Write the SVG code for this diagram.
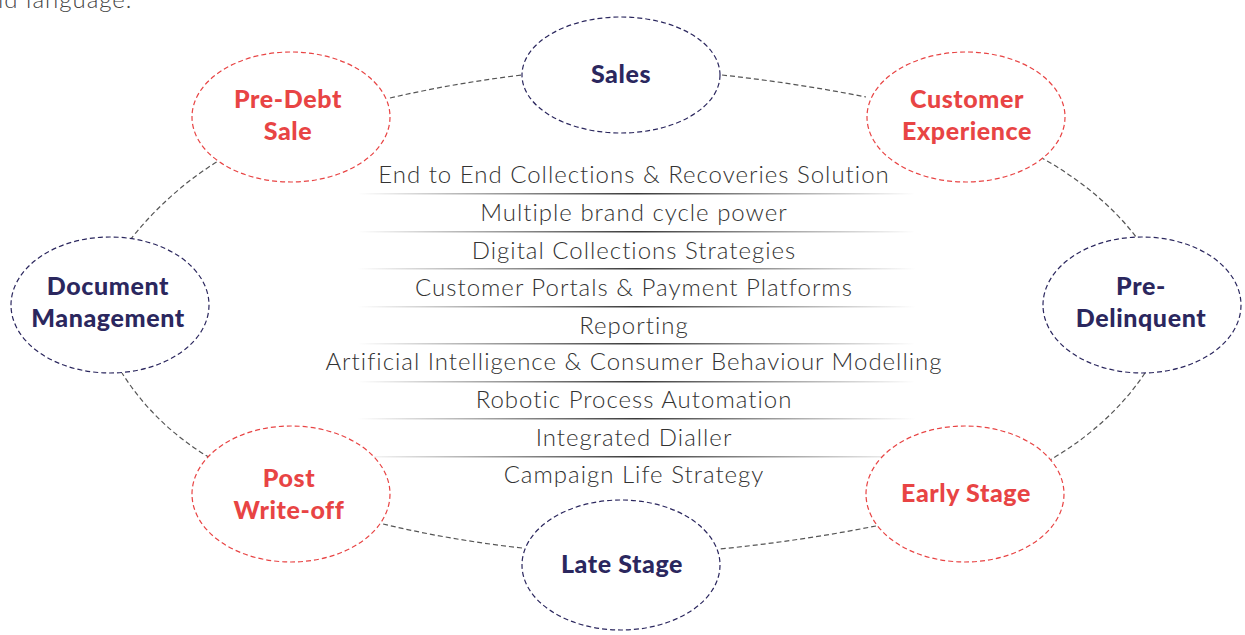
<svg xmlns="http://www.w3.org/2000/svg" width="1245" height="635" viewBox="0 0 1245 635">
<defs>
<linearGradient id="sep" x1="0" y1="0" x2="1" y2="0">
<stop offset="0" stop-color="#ffffff"/>
<stop offset="0.5" stop-color="#3a3a3a"/>
<stop offset="1" stop-color="#ffffff"/>
</linearGradient>
</defs>
<style>
.red ellipse{fill:#fff;stroke:#e84444;stroke-width:1.2;stroke-dasharray:5 3}
.navy ellipse{fill:#fff;stroke:#2b275e;stroke-width:1.2;stroke-dasharray:5 3}
.red text{fill:#e84444}
.navy text{fill:#2b275e}
.node text{font-family:Lato,"Liberation Sans",sans-serif;font-weight:900;font-size:25px;letter-spacing:0.6px;text-anchor:middle}
#connectors path{fill:none;stroke:#555;stroke-width:1.2;stroke-dasharray:5 3}
.item{font-family:Lato,"Liberation Sans",sans-serif;font-weight:300;font-size:24px;letter-spacing:1px;fill:#333;text-anchor:middle}
.sep{fill:url(#sep)}
</style>
<rect width="1245" height="635" fill="#fff"/>
<text x="-2" y="8" style="font-family:Lato,'Liberation Sans',sans-serif;font-weight:300;font-size:24px;letter-spacing:1px;fill:#444">id language.</text>
<g id="connectors">
<path d="M390,98 Q455,83 522,75"/>
<path d="M722,75 Q795,83 866,97"/>
<path d="M1040,157 Q1100,190 1137,238"/>
<path d="M1145,373 Q1110,425 1050,460"/>
<path d="M876,526 Q800,541 720,549"/>
<path d="M522,548 Q450,540 383,524"/>
<path d="M210,458 Q155,425 122,373"/>
<path d="M130,240 Q170,190 220,160"/>
</g>
<g id="list">
<text class="item" x="634" y="183">End to End Collections &amp; Recoveries Solution</text>
<rect class="sep" x="358" y="193" width="557" height="1.5"/>
<text class="item" x="634" y="221">Multiple brand cycle power</text>
<rect class="sep" x="358" y="231" width="557" height="1.5"/>
<text class="item" x="634" y="259">Digital Collections Strategies</text>
<rect class="sep" x="358" y="268" width="557" height="1.5"/>
<text class="item" x="634" y="296">Customer Portals &amp; Payment Platforms</text>
<rect class="sep" x="358" y="306" width="557" height="1.5"/>
<text class="item" x="634" y="334">Reporting</text>
<rect class="sep" x="358" y="343" width="557" height="1.5"/>
<text class="item" x="634" y="370">Artificial Intelligence &amp; Consumer Behaviour Modelling</text>
<rect class="sep" x="358" y="381" width="557" height="1.5"/>
<text class="item" x="634" y="408">Robotic Process Automation</text>
<rect class="sep" x="358" y="418" width="557" height="1.5"/>
<text class="item" x="634" y="446">Integrated Dialler</text>
<rect class="sep" x="358" y="456" width="557" height="1.5"/>
<text class="item" x="634" y="483">Campaign Life Strategy</text>
</g>
<g id="sales" class="node navy"><ellipse cx="621" cy="75" rx="99" ry="58"/><text x="621" y="83">Sales</text></g>
<g id="pre-debt-sale" class="node red"><ellipse cx="291" cy="117" rx="99" ry="65"/><text x="288" y="108">Pre-Debt</text><text x="288" y="140">Sale</text></g>
<g id="customer-experience" class="node red"><ellipse cx="966" cy="117" rx="99" ry="65"/><text x="967" y="108">Customer</text><text x="967" y="140">Experience</text></g>
<g id="document-management" class="node navy"><ellipse cx="110" cy="305" rx="99" ry="68"/><text x="108" y="295">Document</text><text x="108" y="327">Management</text></g>
<g id="pre-delinquent" class="node navy"><ellipse cx="1142" cy="305" rx="99" ry="68"/><text x="1141" y="295">Pre-</text><text x="1141" y="327">Delinquent</text></g>
<g id="post-write-off" class="node red"><ellipse cx="291" cy="494" rx="99" ry="68"/><text x="289" y="487">Post</text><text x="289" y="519">Write-off</text></g>
<g id="early-stage" class="node red"><ellipse cx="965" cy="494" rx="99" ry="68"/><text x="966" y="502">Early Stage</text></g>
<g id="late-stage" class="node navy"><ellipse cx="621" cy="565" rx="99" ry="65"/><text x="622" y="573">Late Stage</text></g>
</svg>
